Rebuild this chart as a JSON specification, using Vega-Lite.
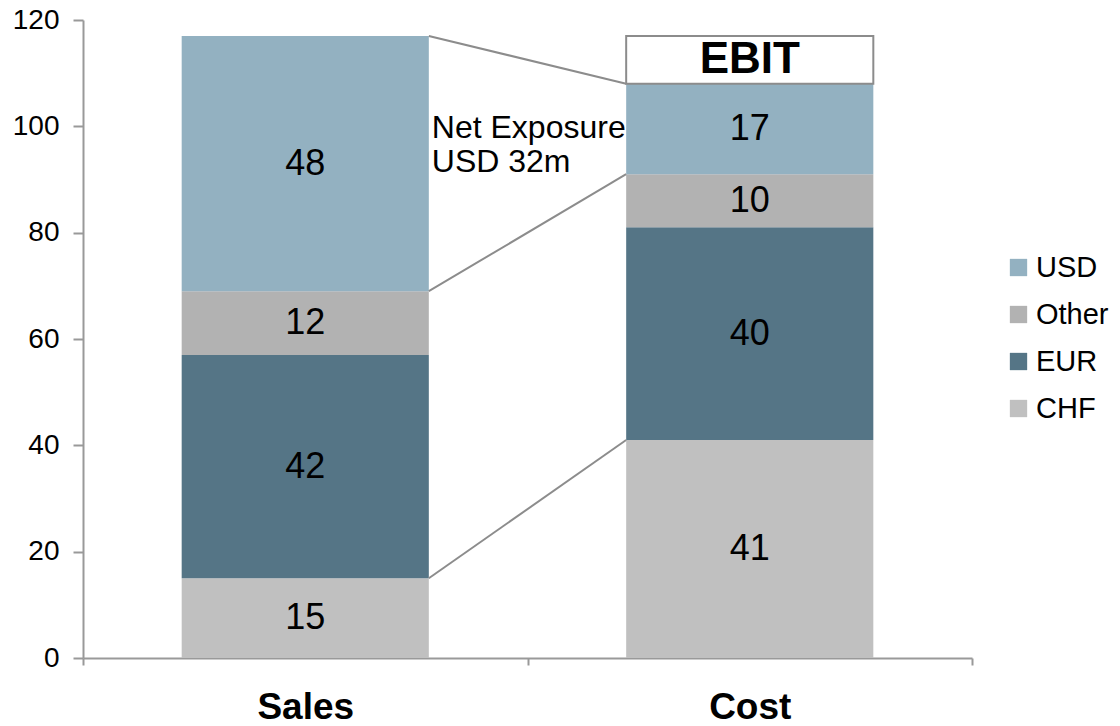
{
  "$schema": "https://vega.github.io/schema/vega-lite/v6.json",
  "autosize": "none",
  "width": 889,
  "height": 638,
  "padding": {"left": 83, "top": 20, "right": 148, "bottom": 68},
  "background": "white",
  "config": {
    "view": {"stroke": null},
    "font": "Liberation Sans",
    "axis": {"grid": false, "domainColor": "#999999", "tickColor": "#999999", "domainWidth": 2, "tickWidth": 2, "labelColor": "#000000", "labelFont": "Liberation Sans"}
  },
  "datasets": {
    "segments": [
      {"cat": "Sales", "cur": "CHF", "v": 15, "o": 1},
      {"cat": "Sales", "cur": "EUR", "v": 42, "o": 2},
      {"cat": "Sales", "cur": "Other", "v": 12, "o": 3},
      {"cat": "Sales", "cur": "USD", "v": 48, "o": 4},
      {"cat": "Cost", "cur": "CHF", "v": 41, "o": 1},
      {"cat": "Cost", "cur": "EUR", "v": 40, "o": 2},
      {"cat": "Cost", "cur": "Other", "v": 10, "o": 3},
      {"cat": "Cost", "cur": "USD", "v": 17, "o": 4},
      {"cat": "Cost", "cur": "EBIT", "v": 9, "o": 5}
    ],
    "links": [
      {"from": "Sales", "to": "Cost", "a": 117, "b": 108},
      {"from": "Sales", "to": "Cost", "a": 69, "b": 91},
      {"from": "Sales", "to": "Cost", "a": 15, "b": 41}
    ],
    "notes": [
      {"cat": "Sales", "y": 99.7, "label": "Net Exposure\nUSD 32m"}
    ]
  },
  "layer": [
    {
      "data": {"name": "segments"},
      "transform": [
        {"stack": "v", "groupby": ["cat"], "sort": [{"field": "o"}], "as": ["s0", "s1"]},
        {"filter": "datum.cur !== 'EBIT'"}
      ],
      "mark": {"type": "bar", "width": {"band": 0.556}},
      "encoding": {
        "x": {
          "field": "cat", "type": "nominal", "title": null,
          "scale": {"domain": ["Sales", "Cost"], "paddingInner": 0, "paddingOuter": 0},
          "axis": {"tickBand": "extent", "tickSize": 7, "labelAngle": 0, "labelFontSize": 37, "labelFontWeight": "bold", "labelPadding": 24}
        },
        "y": {
          "field": "s0", "type": "quantitative", "title": null,
          "scale": {"domain": [0, 120], "nice": false},
          "axis": {"values": [0, 20, 40, 60, 80, 100, 120], "tickSize": 10, "labelFontSize": 28, "labelPadding": 14}
        },
        "y2": {"field": "s1"},
        "color": {
          "field": "cur", "type": "nominal",
          "scale": {"domain": ["USD", "Other", "EUR", "CHF"], "range": ["#93B1C1", "#B2B2B2", "#557586", "#C0C0C0"]},
          "legend": {
            "title": null, "orient": "none", "legendX": 921, "legendY": 233,
            "symbolType": "square", "symbolSize": 300, "symbolStrokeWidth": 0,
            "labelFontSize": 29, "labelOffset": 3, "rowPadding": 17, "padding": 0
          }
        }
      }
    },
    {
      "data": {"name": "segments"},
      "transform": [
        {"stack": "v", "groupby": ["cat"], "sort": [{"field": "o"}], "as": ["s0", "s1"]},
        {"filter": "datum.cur === 'EBIT'"}
      ],
      "mark": {"type": "bar", "width": {"band": 0.556}, "fill": "white", "stroke": "#8C8C8C", "strokeWidth": 2},
      "encoding": {
        "x": {"field": "cat", "type": "nominal"},
        "y": {"field": "s0", "type": "quantitative"},
        "y2": {"field": "s1"}
      }
    },
    {
      "data": {"name": "segments"},
      "transform": [
        {"stack": "v", "groupby": ["cat"], "sort": [{"field": "o"}], "as": ["s0", "s1"]},
        {"filter": "datum.cur !== 'EBIT'"},
        {"fold": ["s0", "s1"], "as": ["k", "val"]},
        {"aggregate": [{"op": "mean", "field": "val", "as": "mid"}], "groupby": ["cat", "cur", "v"]}
      ],
      "mark": {"type": "text", "fontSize": 36, "color": "black", "baseline": "middle", "align": "center"},
      "encoding": {
        "x": {"field": "cat", "type": "nominal"},
        "y": {"field": "mid", "type": "quantitative"},
        "text": {"field": "v", "type": "quantitative"}
      }
    },
    {
      "data": {"name": "segments"},
      "transform": [
        {"stack": "v", "groupby": ["cat"], "sort": [{"field": "o"}], "as": ["s0", "s1"]},
        {"filter": "datum.cur === 'EBIT'"},
        {"fold": ["s0", "s1"], "as": ["k", "val"]},
        {"aggregate": [{"op": "mean", "field": "val", "as": "mid"}], "groupby": ["cat", "cur"]}
      ],
      "mark": {"type": "text", "fontSize": 44, "fontWeight": "bold", "color": "black", "baseline": "middle", "align": "center"},
      "encoding": {
        "x": {"field": "cat", "type": "nominal"},
        "y": {"field": "mid", "type": "quantitative"},
        "text": {"field": "cur", "type": "nominal"}
      }
    },
    {
      "data": {"name": "links"},
      "mark": {"type": "rule", "color": "#8C8C8C", "strokeWidth": 2},
      "encoding": {
        "x": {"field": "from", "type": "nominal", "bandPosition": 0.778},
        "x2": {"field": "to", "bandPosition": 0.222},
        "y": {"field": "a", "type": "quantitative"},
        "y2": {"field": "b"}
      }
    },
    {
      "data": {"name": "notes"},
      "mark": {"type": "text", "fontSize": 32, "align": "left", "baseline": "middle", "dx": 3, "lineBreak": "\n", "lineHeight": 34, "color": "black"},
      "encoding": {
        "x": {"field": "cat", "type": "nominal", "bandPosition": 0.778},
        "y": {"field": "y", "type": "quantitative"},
        "text": {"field": "label", "type": "nominal"}
      }
    }
  ]
}
